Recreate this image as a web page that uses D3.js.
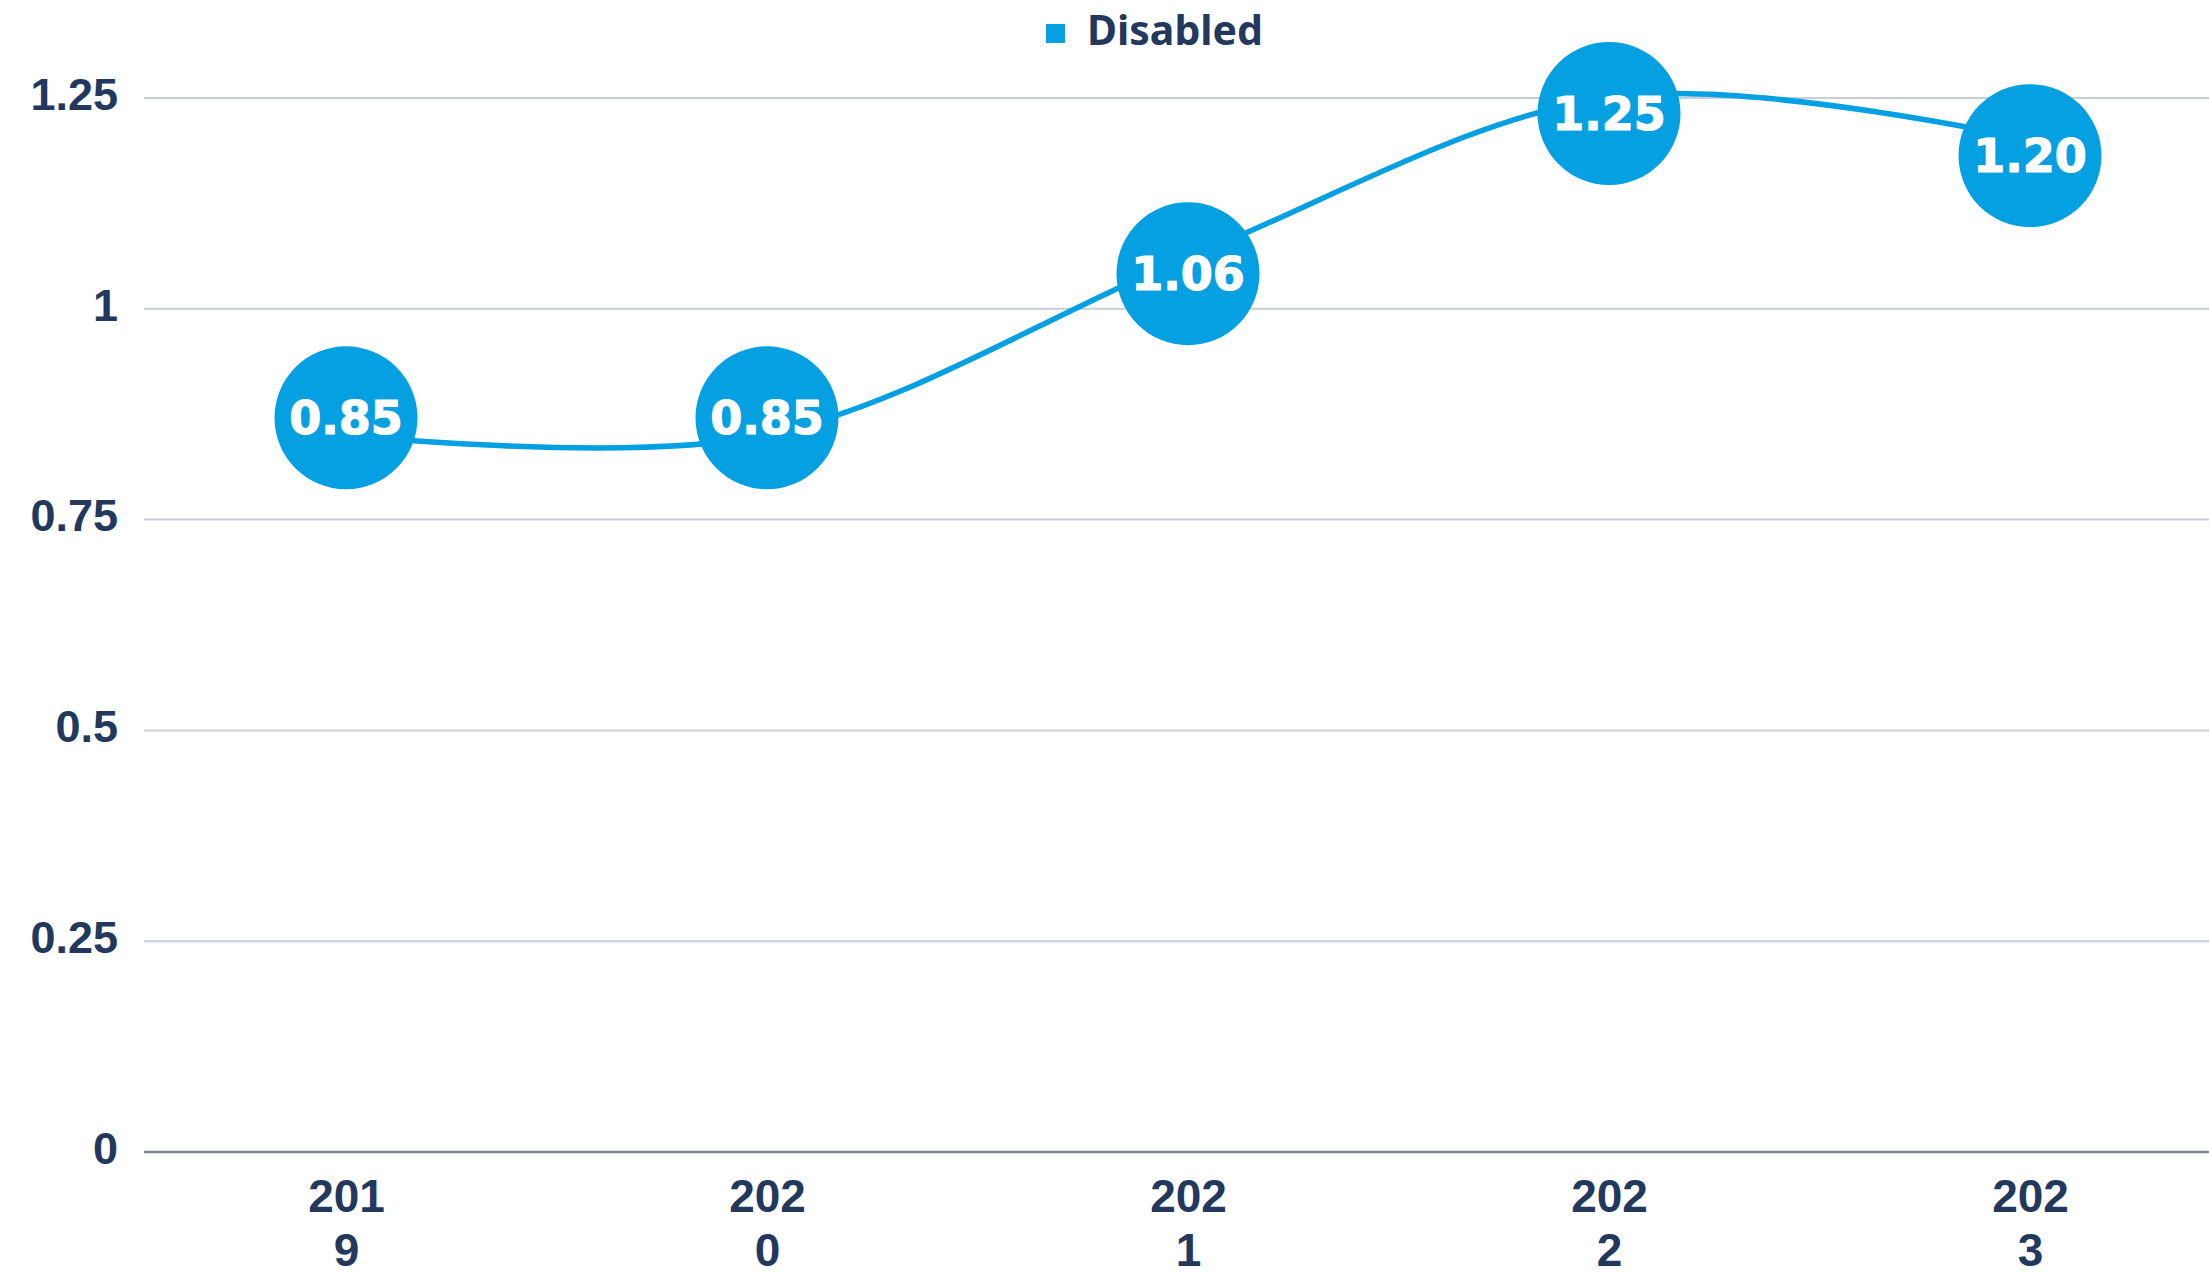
<!DOCTYPE html>
<html lang="en">
<head>
  <meta charset="utf-8">
  <title>Disabled</title>
  <script src="https://d3js.org/d3.v7.min.js"></script>
  <style>
    body { margin: 0; background: #fff; }
    .axis text { font-family: "Liberation Sans", Arial, sans-serif; font-weight: bold; fill: #22385c; }
    .bubble text { font-family: "DejaVu Sans", sans-serif; font-weight: bold; fill: #fff; stroke: #fff; stroke-width: 1.2px; }
    .legend text { font-family: "Noto Sans", sans-serif; font-weight: bold; fill: #22385c; }
  </style>
</head>
<body>
  <div id="chart"></div>
  <script>
    // data
    var years = ["2019", "2020", "2021", "2022", "2023"];
    var disabled = [0.85, 0.85, 1.06, 1.25, 1.20];
    var yTicks = [0, 0.25, 0.5, 0.75, 1, 1.25];
    var seriesName = "Disabled";
    // where each value bubble sits relative to its point
    var labelSide = ["above", "above", "below", "below", "below"];

    var W = 2209, H = 1276;
    var margin = {top: 97.5, right: 0, bottom: 124, left: 144};
    var blue = "#05a0e1", navy = "#22385c";

    var svg = d3.select("#chart").append("svg")
      .attr("width", W).attr("height", H);

    var x = d3.scalePoint().domain(years).range([346, 2030]);
    var y = d3.scaleLinear().domain([0, 1.25]).range([H - margin.bottom - 0.5, margin.top]);

    // grid + y labels
    var yAxis = svg.append("g")
      .attr("class", "axis")
      .attr("transform", "translate(" + margin.left + ",0)")
      .call(d3.axisLeft(y).tickValues(yTicks).tickFormat(d => String(d))
        .tickSizeInner(-(W - margin.left)).tickSizeOuter(0).tickPadding(26));
    yAxis.select(".domain").remove();
    yAxis.selectAll(".tick line")
      .attr("stroke", d => d === 0 ? "#7b8797" : "#c9cdd6")
      .attr("stroke-width", d => d === 0 ? 2.5 : 2);
    yAxis.selectAll(".tick text")
      .style("font-size", "45px")
      .attr("dy", "0.26em");

    // x labels, wrapped like the original ("201" / "9")
    var xAxis = svg.append("g")
      .attr("class", "axis")
      .attr("transform", "translate(0," + y(0) + ")")
      .call(d3.axisBottom(x).tickSize(0).tickPadding(0));
    xAxis.select(".domain").remove();
    xAxis.selectAll(".tick text").each(function(d) {
      var t = d3.select(this).text("").attr("dy", null).attr("y", 0).style("font-size", "46px");
      t.append("tspan").attr("x", 0).attr("y", 60).text(d.slice(0, 3));
      t.append("tspan").attr("x", 0).attr("y", 114).text(d.slice(3));
    });

    // line
    var line = d3.line()
      .x((d, i) => x(years[i]))
      .y(d => y(d))
      .curve(d3.curveCardinal.tension(0));

    svg.append("path")
      .datum(disabled)
      .attr("d", line)
      .attr("fill", "none")
      .attr("stroke", blue)
      .attr("stroke-width", 5.5);

    // value bubbles
    var bub = svg.selectAll(".bubble")
      .data(disabled)
      .enter().append("g")
      .attr("class", "bubble")
      .attr("transform", (d, i) => "translate(" + x(years[i]) + "," + (y(d) + (labelSide[i] === "above" ? -17 : 16)) + ")");

    bub.append("circle")
      .attr("r", 71.5)
      .attr("fill", blue);

    bub.append("text")
      .attr("text-anchor", "middle")
      .attr("dy", "0.36em")
      .style("font-size", "46px")
      .text(d => d3.format(".2f")(d));

    // legend
    var legend = svg.append("g").attr("class", "legend");
    legend.append("rect")
      .attr("x", 1046).attr("y", 24)
      .attr("width", 19).attr("height", 19)
      .attr("fill", blue);
    legend.append("text")
      .attr("x", 1087).attr("y", 45)
      .style("font-size", "41px")
      .text(seriesName);
  </script>
</body>
</html>
